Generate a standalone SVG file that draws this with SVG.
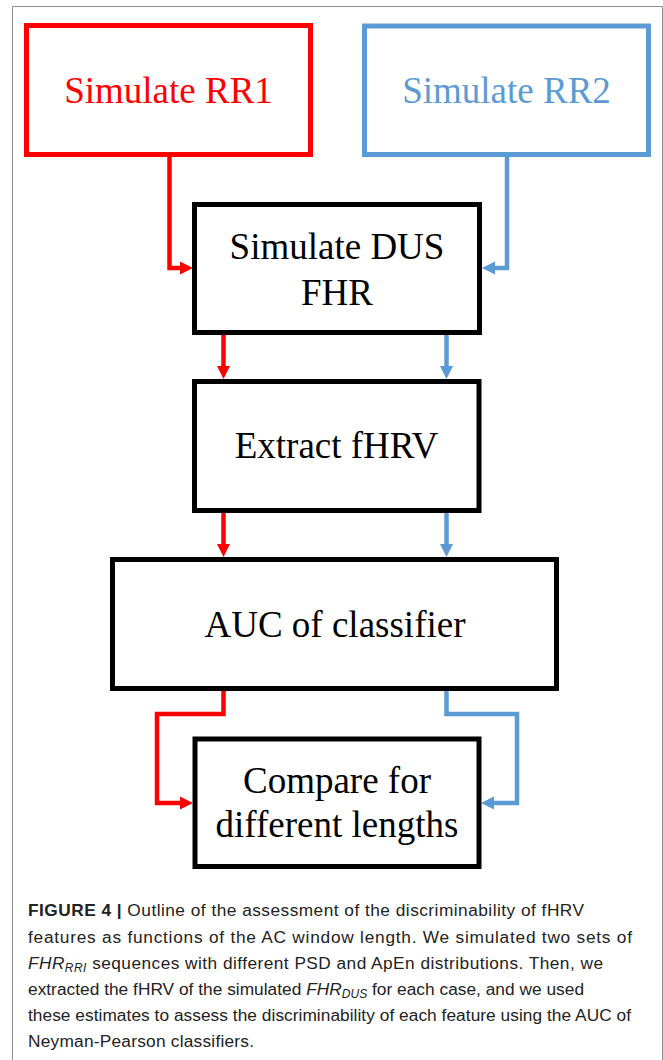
<svg xmlns="http://www.w3.org/2000/svg" width="663" height="1060" viewBox="0 0 663 1060">
  <style>
    .box { fill: #ffffff; stroke-width: 5; }
    .k { stroke: #000000; }
    .r { stroke: #ff0000; }
    .b { stroke: #5b9bd5; }
    .lbl { font-family: "Liberation Serif", "Times New Roman", serif; font-size: 37px; text-anchor: middle; fill: #000000; }
    .lr { fill: #ff0000; }
    .lb { fill: #5b9bd5; }
    .wire { fill: none; stroke-width: 4.5; stroke-linejoin: miter; }
    .cap { font-family: "Liberation Sans", Arial, sans-serif; font-size: 17.3px; fill: #222222; }
    .sub { font-size: 12px; }
  </style>
  <defs>
    <marker id="headR" markerUnits="userSpaceOnUse" markerWidth="14" markerHeight="14" refX="1" refY="6.5" orient="auto" overflow="visible">
      <path d="M0,0 L13,6.5 L0,13 Z" fill="#ff0000"/>
    </marker>
    <marker id="headB" markerUnits="userSpaceOnUse" markerWidth="14" markerHeight="14" refX="1" refY="6.5" orient="auto" overflow="visible">
      <path d="M0,0 L13,6.5 L0,13 Z" fill="#5b9bd5"/>
    </marker>
  </defs>

  <rect width="663" height="1060" fill="#ffffff"/>
  <!-- outer figure frame -->
  <path d="M12.5,1060 V6.5 H662.5 V1060" fill="none" stroke="#8c8c8c" stroke-width="1"/>

  <g id="connectors">
    <path class="wire r" d="M169.5,157 V268 H181" marker-end="url(#headR)"/>
    <path class="wire b" d="M507,157 V268 H494" marker-end="url(#headB)"/>
    <path class="wire r" d="M223.5,335 V367" marker-end="url(#headR)"/>
    <path class="wire b" d="M446.5,335 V367" marker-end="url(#headB)"/>
    <path class="wire r" d="M223.5,513 V545" marker-end="url(#headR)"/>
    <path class="wire b" d="M446.5,513 V545" marker-end="url(#headB)"/>
    <path class="wire r" d="M223.5,691 V714 H157 V803 H181" marker-end="url(#headR)"/>
    <path class="wire b" d="M446.5,691 V714 H517 V803 H493" marker-end="url(#headB)"/>
  </g>

  <g id="simRR1">
    <rect class="box r" x="26.5" y="25.5" width="284" height="129"/>
    <text class="lbl lr" x="168.5" y="103">Simulate RR1</text>
  </g>
  <g id="simRR2">
    <rect class="box b" x="364.5" y="26" width="284" height="128.5"/>
    <text class="lbl lb" x="506.5" y="103">Simulate RR2</text>
  </g>
  <g id="simDUS">
    <rect class="box k" x="194.5" y="204.5" width="285" height="128"/>
    <text class="lbl" x="337" y="259">Simulate DUS</text>
    <text class="lbl" x="337" y="305">FHR</text>
  </g>
  <g id="extract">
    <rect class="box k" x="194.5" y="381.5" width="284.5" height="129"/>
    <text class="lbl" x="336.5" y="458">Extract fHRV</text>
  </g>
  <g id="auc">
    <rect class="box k" x="112.5" y="559.5" width="444" height="129"/>
    <text class="lbl" x="335" y="637">AUC of classifier</text>
  </g>
  <g id="compare">
    <rect class="box k" x="195" y="739" width="284" height="127.5"/>
    <text class="lbl" x="337" y="793">Compare for</text>
    <text class="lbl" x="337" y="837">different lengths</text>
  </g>

  <g id="caption" class="cap">
    <text x="28" y="916" textLength="556"><tspan font-weight="bold">FIGURE 4 |</tspan> Outline of the assessment of the discriminability of fHRV</text>
    <text x="28" y="942.5" textLength="604">features as functions of the AC window length. We simulated two sets of</text>
    <text x="28" y="969" textLength="575"><tspan font-style="italic">FHR</tspan><tspan font-style="italic" class="sub" dy="3">RRI</tspan><tspan dy="-3"> sequences with different PSD and ApEn distributions. Then, we</tspan></text>
    <text x="28" y="995" textLength="556">extracted the fHRV of the simulated <tspan font-style="italic">FHR</tspan><tspan font-style="italic" class="sub" dy="3">DUS</tspan><tspan dy="-3"> for each case, and we used</tspan></text>
    <text x="28" y="1021" textLength="603">these estimates to assess the discriminability of each feature using the AUC of</text>
    <text x="28" y="1047" textLength="226">Neyman-Pearson classifiers.</text>
  </g>
</svg>
